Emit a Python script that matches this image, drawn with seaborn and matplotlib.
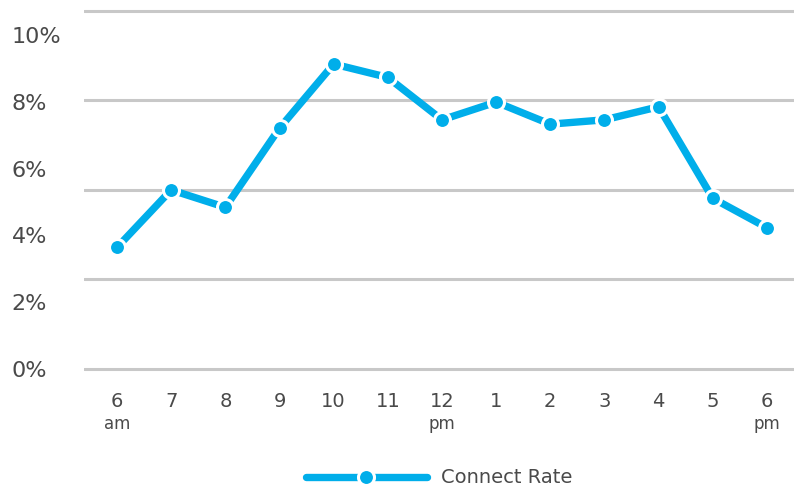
import numpy as np
import pandas as pd
import matplotlib
matplotlib.use("Agg")
import matplotlib.pyplot as plt
import seaborn as sns

# ---- data ----
hours = ["6", "7", "8", "9", "10", "11", "12", "1", "2", "3", "4", "5", "6"]
periods = ["am", "", "", "", "", "", "pm", "", "", "", "", "", "pm"]
connect_rate = [3.64, 5.36, 4.84, 7.21, 9.13, 8.73, 7.46, 7.99, 7.33, 7.46, 7.85, 5.11, 4.23]
y_ticks = [0, 2, 4, 6, 8, 10]
y_tick_labels = ["0%", "2%", "4%", "6%", "8%", "10%"]
series_name = "Connect Rate"

df = pd.DataFrame({"idx": np.arange(len(hours)), "rate": connect_rate, "series": series_name})

sns.set_theme(style="white")
plt.rcParams["font.family"] = ["DejaVu Sans"]

BLUE = "#00AEEA"
GRID = "#C8C8C8"
TXT = "#4A4A4A"

fig = plt.figure(figsize=(7.94, 4.86), dpi=100)
ax = fig.add_axes([84 / 794, 1 - 372.3 / 486, 1 - 84 / 794, (372.3 - 6.6) / 486])

# gridlines (decorative, evenly spaced)
for g in np.linspace(0, 10.72, 5):
    ax.axhline(g, color=GRID, lw=2.2, zorder=0)

sns.lineplot(data=df, x="idx", y="rate", hue="series", palette=[BLUE], ax=ax,
             lw=5.3, marker="o", markersize=11.5, markeredgecolor="white",
             markeredgewidth=2.2, legend=True, zorder=3)

ax.set_xlim(-0.61, 12.5)
ax.set_ylim(-0.1, 10.85)
for s in ax.spines.values():
    s.set_visible(False)
ax.set_xlabel("")
ax.set_ylabel("")

ax.set_yticks(y_ticks)
ax.set_yticklabels(y_tick_labels, fontsize=16, color=TXT, ha="left")
ax.tick_params(axis="y", length=0, pad=52)

ax.set_xticks(np.arange(len(hours)))
ax.set_xticklabels(hours, fontsize=14, color=TXT)
ax.tick_params(axis="x", length=0, pad=14)

trans = ax.get_xaxis_transform()
for i, p in enumerate(periods):
    if p:
        ax.annotate(p, xy=(i, 0), xycoords=trans, xytext=(0, -31),
                    textcoords="offset points", ha="center", va="top",
                    fontsize=12, color=TXT)

h, l = ax.get_legend_handles_labels()
ax.legend_.remove()
fig.legend(h, l, loc="center", bbox_to_anchor=(0.553, 0.0165), frameon=False,
           fontsize=14, handlelength=6.2, handletextpad=0.72, labelcolor=TXT,
           borderaxespad=0, borderpad=0)

fig.savefig("out.png", dpi=100)
